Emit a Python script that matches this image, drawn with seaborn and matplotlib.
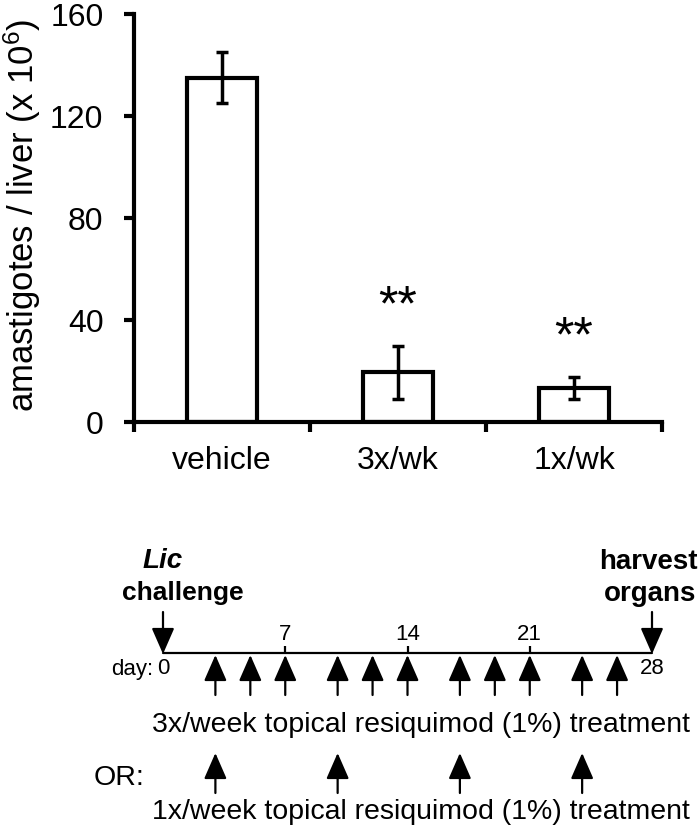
import matplotlib
matplotlib.use("Agg")
import matplotlib.pyplot as plt
import seaborn as sns
import pandas as pd

# bar chart data
groups = ["vehicle", "3x/wk", "1x/wk"]
means = [135, 19.5, 13.3]
errors = [10, 10.5, 4.3]
stars = ["", "**", "**"]
y_ticks = [0, 40, 80, 120, 160]

# treatment schedule (days)
day_ends = [0, 28]
day_ticks = [7, 14, 21]
dose_3x = [3, 5, 7, 10, 12, 14, 17, 19, 21, 24, 26]
dose_1x = [3, 10, 17, 24]
schedule_text = ["3x/week topical resiquimod (1%) treatment",
                 "1x/week topical resiquimod (1%) treatment"]

sns.set_style("ticks")
plt.rcParams['font.family'] = ['Liberation Sans', 'DejaVu Sans']
plt.rcParams['mathtext.fontset'] = 'custom'
plt.rcParams['mathtext.rm'] = 'Liberation Sans'
for key in ['text.color', 'axes.labelcolor', 'xtick.color', 'ytick.color',
            'axes.edgecolor']:
    plt.rcParams[key] = 'black'

fig = plt.figure(figsize=(7, 8.3), dpi=100)

# --- top: bar chart ---
ax = fig.add_axes([134 / 700, 1 - 422 / 830, 528 / 700, 408 / 830])
df = pd.DataFrame({"group": groups, "mean": means})
sns.barplot(data=df, x="group", y="mean", color="white", saturation=1,
            edgecolor="black", linewidth=3, width=0.4, errorbar=None, ax=ax)
ax.errorbar(range(len(groups)), means, yerr=errors, fmt='none', ecolor='black',
            elinewidth=2.5, capsize=4.5, capthick=2.5, zorder=3)
for i, (m, e, s) in enumerate(zip(means, errors, stars)):
    if s:
        ax.text(i, m + e + 15, s, ha='center', va='center', fontsize=36)

ax.set_xlim(-0.5, len(groups) - 0.5)
ax.set_ylim(y_ticks[0], y_ticks[-1])
ax.set_yticks(y_ticks)
ax.set_xticks([i - 0.5 for i in range(len(groups) + 1)], labels=[])
ax.set_xticks(range(len(groups)), labels=groups, minor=True)
ax.set_xlabel("")
ax.set_ylabel("")
ax.tick_params(axis='x', which='major', length=7, width=3)
ax.tick_params(axis='x', which='minor', length=0, pad=17, labelsize=23)
ax.tick_params(axis='y', length=7, width=3, pad=15, labelsize=23)
sns.despine(ax=ax)
for sp in ["left", "bottom"]:
    ax.spines[sp].set_linewidth(3)

fig.text(22 / 700, 1 - 215 / 830, "amastigotes / liver (x 10$\\mathregular{^6}$)",
         rotation=90, ha='center', va='center', fontsize=25)

# --- bottom: schedule diagram (y in image pixel rows) ---
ax2 = fig.add_axes([163 / 700, 0, 489 / 700, 300 / 830])
ax2.set_xlim(day_ends[0], day_ends[-1])
ax2.set_ylim(830, 530)
ax2.axis('off')

arrow = dict(arrowstyle='-|>,head_length=1.6,head_width=0.7', lw=1.6,
             color='black', shrinkA=0, shrinkB=0, mutation_scale=10)

ax2.plot(day_ends, [653, 653], color='black', lw=1.6, clip_on=False)
ax2.vlines(day_ticks, 646, 653, color='black', lw=1.6)
for d in day_ticks:
    ax2.text(d, 634, str(d), ha='center', va='center', fontsize=16)
for d in day_ends:
    ax2.text(d, 669, str(d), ha='center', va='center', fontsize=16)
    ax2.annotate('', xy=(d, 654), xytext=(d, 612), arrowprops=arrow,
                 annotation_clip=False)
ax2.text(-0.57, 669, "day:", ha='right', va='center', fontsize=16)

for d in dose_3x:
    ax2.annotate('', xy=(d, 655), xytext=(d, 695), arrowprops=arrow,
                 annotation_clip=False)
for d in dose_1x:
    ax2.annotate('', xy=(d, 753), xytext=(d, 793), arrowprops=arrow,
                 annotation_clip=False)

ax2.text(0, 561, "Lic", ha='center', va='center', fontsize=20,
         fontweight='bold', fontstyle='italic')
ax2.text(1.15, 593, "challenge", ha='center', va='center', fontsize=19,
         fontweight='bold')
ax2.text(27.8, 562, "harvest", ha='center', va='center', fontsize=20,
         fontweight='bold')
ax2.text(27.9, 594, "organs", ha='center', va='center', fontsize=20,
         fontweight='bold')

ax2.text(14.78, 725, schedule_text[0], ha='center', va='center', fontsize=20.5)
ax2.text(-2.52, 778, "OR:", ha='center', va='center', fontsize=20.5)
ax2.text(14.78, 812, schedule_text[1], ha='center', va='center', fontsize=20.5)

fig.savefig("out.png", dpi=100)
